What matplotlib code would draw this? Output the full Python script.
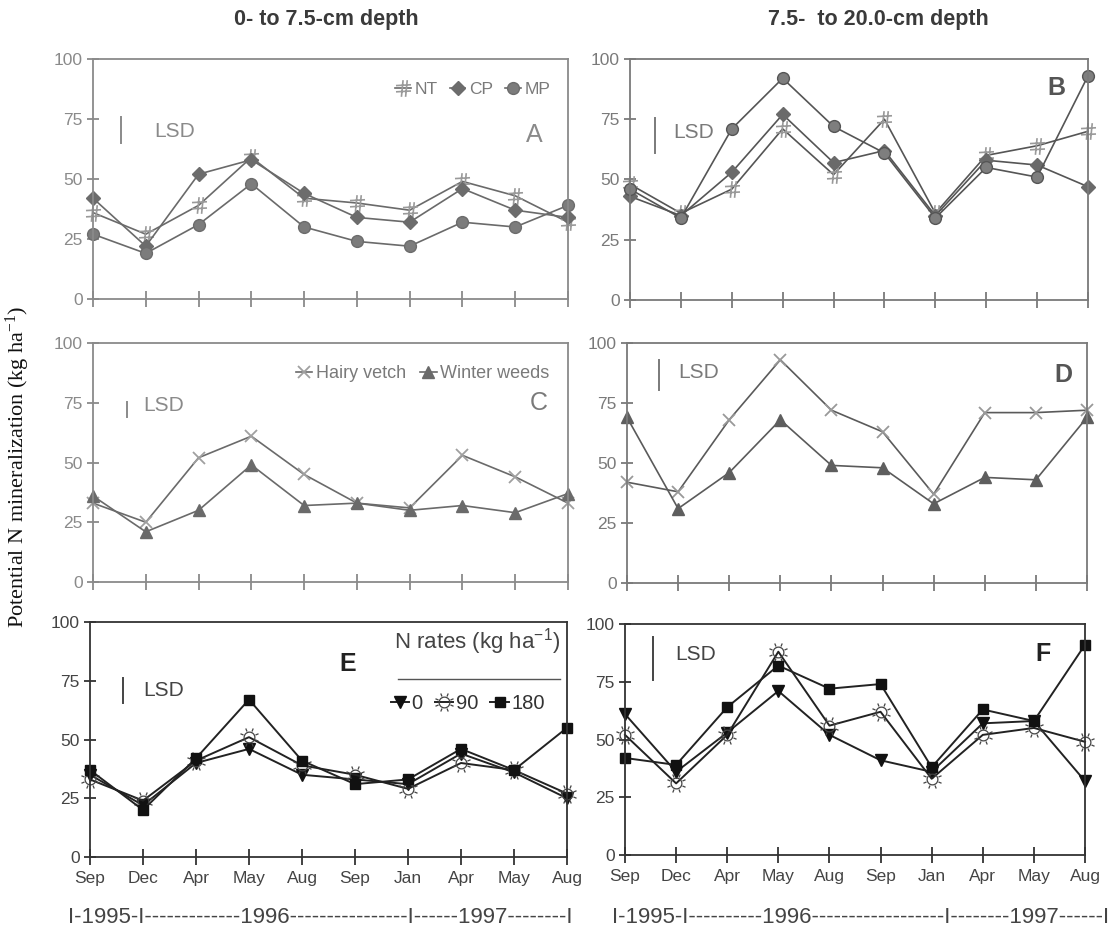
import numpy as np
import matplotlib
matplotlib.use('Agg')
import matplotlib.pyplot as plt
from matplotlib.path import Path

plt.rcParams['font.family'] = ['Liberation Sans', 'DejaVu Sans']

# ---------------- data ----------------
months = ['Sep', 'Dec', 'Apr', 'May', 'Aug', 'Sep', 'Jan', 'Apr', 'May', 'Aug']
yticks = [0, 25, 50, 75, 100]

# Panel A: 0-7.5 cm, tillage
a_nt = [36, 27, 39, 59, 42, 40, 37, 49, 43, 32]
a_cp = [42, 22, 52, 58, 44, 34, 32, 46, 37, 34]
a_mp = [27, 19, 31, 48, 30, 24, 22, 32, 30, 39]
# Panel B: 7.5-20 cm, tillage
b_nt = [48, 36, 46, 71, 52, 75, 36, 60, 64, 70]
b_cp = [43, 35, 53, 77, 57, 62, 35, 58, 56, 47]
b_mp = [46, 34, 71, 92, 72, 61, 34, 55, 51, 93]
# Panel C: 0-7.5 cm, cover crop
c_hv = [33, 25, 52, 61, 45, 33, 31, 53, 44, 33]
c_ww = [36, 21, 30, 49, 32, 33, 30, 32, 29, 37]
# Panel D: 7.5-20 cm, cover crop
d_hv = [42, 38, 68, 93, 72, 63, 37, 71, 71, 72]
d_ww = [69, 31, 46, 68, 49, 48, 33, 44, 43, 69]
# Panel E: 0-7.5 cm, N rates
e_n0 = [35, 22, 40, 46, 35, 33, 31, 44, 36, 25]
e_n90 = [33, 24, 41, 51, 39, 35, 29, 40, 37, 27]
e_n180 = [37, 20, 42, 67, 41, 31, 33, 46, 37, 55]
# Panel F: 7.5-20 cm, N rates
f_n0 = [61, 36, 53, 71, 52, 41, 36, 57, 58, 32]
f_n90 = [52, 31, 52, 88, 56, 62, 33, 52, 55, 49]
f_n180 = [42, 39, 64, 82, 72, 74, 38, 63, 58, 91]

# LSD bar lengths (kg/ha)
lsd_vals = {'A': 10.8, 'B': 14.5, 'C': 6.3, 'D': 12.5, 'E': 10.5, 'F': 18.7}

years_left = 'I-1995-I-------------1996----------------I------1997--------I'
years_right = 'I-1995-I----------1996------------------I--------1997------I'

x = np.arange(len(months))

# ---------------- figure ----------------
W, H = 1119, 930
fig = plt.figure(figsize=(W / 100, H / 100), dpi=100)


def box(l, t, r, b):
    return [l / W, 1 - b / H, (r - l) / W, (b - t) / H]


# sun-like marker for 90 kg N
_circ = Path.circle((0, 0), 0.55)
_rv, _rc = [], []
for ang in np.deg2rad(np.arange(0, 360, 45) + 22.5):
    _rv += [(0.66 * np.cos(ang), 0.66 * np.sin(ang)), (1.0 * np.cos(ang), 1.0 * np.sin(ang))]
    _rc += [Path.MOVETO, Path.LINETO]
sun = Path.make_compound_path(_circ, Path(_rv, _rc))

# hash-like marker for NT
hashm = Path([(-0.25, -1.0), (-0.05, 1.0), (0.25, -1.0), (0.45, 1.0),
              (-0.9, 0.35), (0.9, 0.45), (-0.9, -0.4), (0.9, -0.3)],
             [Path.MOVETO, Path.LINETO] * 4)


def setup(ax, spine_col, lab_col, bottom_labels):
    ax.set_xlim(0, 9)
    ax.set_ylim(0, 100)
    ax.set_xticks(x)
    ax.set_yticks(yticks)
    ax.set_yticklabels([str(v) for v in yticks])
    if bottom_labels:
        ax.set_xticklabels(months)
    else:
        ax.set_xticklabels([''] * len(months))
    for s in ax.spines.values():
        s.set_color(spine_col)
        s.set_linewidth(1.3)
    ax.tick_params(axis='x', direction='inout', length=12, width=1.3,
                   colors=spine_col, labelcolor=lab_col, labelsize=12.5, pad=4)
    ax.tick_params(axis='y', direction='inout', length=9, width=1.3,
                   colors=spine_col, labelcolor=lab_col, labelsize=12.5, pad=3)
    ax.set_facecolor('white')


def lsd(ax, key, xf, y0, tx, ty, col, size=15):
    ax.plot([xf, xf], [y0, y0 + lsd_vals[key]], color=col, lw=1.4,
            transform=ax.get_yaxis_transform(), clip_on=False)
    ax.text(tx, ty, 'LSD', transform=ax.transAxes, ha='left', va='center',
            fontsize=size, color=col)


# ---------- Panel A ----------
axA = fig.add_axes(box(93, 59, 568, 299))
setup(axA, '#8a8a8a', '#8a8a8a', False)
lc = '#6a6a6a'
axA.plot(x, a_nt, color=lc, lw=1.2, marker=hashm, ms=12, mfc='none', mec='#9a9a9a',
         mew=1.2, label='NT', clip_on=False)
axA.plot(x, a_cp, color=lc, lw=1.2, marker='D', ms=7, mfc='#6c6c6c', mec='#6c6c6c',
         label='CP', clip_on=False)
axA.plot(x, a_mp, color=lc, lw=1.2, marker='o', ms=8.5, mfc='#7c7c7c', mec='#6c6c6c',
         label='MP', clip_on=False)
axA.legend(loc='upper right', bbox_to_anchor=(0.995, 0.97), ncol=3, frameon=False,
           fontsize=12.5, handlelength=0.9, handletextpad=0.2, columnspacing=0.7,
           labelcolor='#7a7a7a')
lsd(axA, 'A', 0.059, 65, 0.13, 0.696, '#8a8a8a')
axA.text(0.93, 0.683, 'A', transform=axA.transAxes, ha='center', va='center',
         fontsize=18, color='#8a8a8a')

# ---------- Panel B ----------
axB = fig.add_axes(box(630, 59, 1088, 300))
setup(axB, '#7a7a7a', '#7a7a7a', False)
lc = '#555555'
axB.plot(x, b_nt, color=lc, lw=1.2, marker=hashm, ms=12, mfc='none', mec='#999999',
         mew=1.2, clip_on=False)
axB.plot(x, b_cp, color=lc, lw=1.2, marker='D', ms=7, mfc='#6a6a6a', mec='#6a6a6a',
         clip_on=False)
axB.plot(x, b_mp, color=lc, lw=1.2, marker='o', ms=8.5, mfc='#7e7e7e', mec='#555555',
         clip_on=False)
lsd(axB, 'B', 0.055, 61, 0.094, 0.697, '#7a7a7a')
axB.text(0.932, 0.88, 'B', transform=axB.transAxes, ha='center', va='center',
         fontsize=18, fontweight='bold', color='#555555')

# ---------- Panel C ----------
axC = fig.add_axes(box(93, 343, 568, 582))
setup(axC, '#8a8a8a', '#8a8a8a', False)
lc = '#6a6a6a'
axC.plot(x, c_hv, color=lc, lw=1.2, marker='x', ms=9, mew=1.3, mec='#a0a0a0',
         label='Hairy vetch', clip_on=False)
axC.plot(x, c_ww, color=lc, lw=1.2, marker='^', ms=8, mfc='#6a6a6a', mec='#6a6a6a',
         label='Winter weeds', clip_on=False)
axC.legend(loc='upper right', bbox_to_anchor=(0.995, 0.975), ncol=2, frameon=False,
           fontsize=13, handlelength=0.9, handletextpad=0.2, columnspacing=0.8,
           labelcolor='#7a7a7a')
lsd(axC, 'C', 0.072, 69, 0.105, 0.74, '#8a8a8a')
axC.text(0.939, 0.75, 'C', transform=axC.transAxes, ha='center', va='center',
         fontsize=18, color='#7a7a7a')

# ---------- Panel D ----------
axD = fig.add_axes(box(627, 343, 1087, 583))
setup(axD, '#7a7a7a', '#7a7a7a', False)
lc = '#5a5a5a'
axD.plot(x, d_hv, color=lc, lw=1.2, marker='x', ms=9, mew=1.3, mec='#999999',
         clip_on=False)
axD.plot(x, d_ww, color=lc, lw=1.2, marker='^', ms=8, mfc='#5e5e5e', mec='#5e5e5e',
         clip_on=False)
lsd(axD, 'D', 0.07, 80.4, 0.111, 0.875, '#7a7a7a')
axD.text(0.948, 0.867, 'D', transform=axD.transAxes, ha='center', va='center',
         fontsize=18, fontweight='bold', color='#555555')

# ---------- Panel E ----------
axE = fig.add_axes(box(90, 622, 567, 857))
setup(axE, '#333333', '#444444', True)
lc = '#222222'
axE.plot(x, e_n0, color=lc, lw=1.4, marker='v', ms=8, mfc='#111111', mec='#111111',
         label='0', clip_on=False)
axE.plot(x, e_n90, color=lc, lw=1.4, marker=sun, ms=13, mfc='none', mec='#444444',
         mew=0.9, label='90', clip_on=False)
axE.plot(x, e_n180, color=lc, lw=1.4, marker='s', ms=7.5, mfc='#111111', mec='#111111',
         label='180', clip_on=False)
axE.text(0.985, 0.915, 'N rates (kg ha$\\mathregular{^{-1}}$)', transform=axE.transAxes,
         ha='right', va='center', fontsize=16, color='#444444')
axE.plot([0.645, 0.985], [0.757, 0.757], transform=axE.transAxes, color='#555555', lw=1.0)
axE.legend(loc='center left', bbox_to_anchor=(0.63, 0.655), ncol=3, frameon=False,
           fontsize=14.5, handlelength=0.9, handletextpad=0.15, columnspacing=0.6,
           labelcolor='#333333', borderaxespad=0, borderpad=0)
lsd(axE, 'E', 0.069, 65.5, 0.111, 0.71, '#444444')
axE.text(0.541, 0.82, 'E', transform=axE.transAxes, ha='center', va='center',
         fontsize=18, fontweight='bold', color='#222222')

# ---------- Panel F ----------
axF = fig.add_axes(box(625, 624, 1085, 855))
setup(axF, '#333333', '#444444', True)
axF.plot(x, f_n0, color=lc, lw=1.4, marker='v', ms=8, mfc='#111111', mec='#111111',
         clip_on=False)
axF.plot(x, f_n90, color=lc, lw=1.4, marker=sun, ms=13, mfc='none', mec='#444444',
         mew=0.9, clip_on=False)
axF.plot(x, f_n180, color=lc, lw=1.4, marker='s', ms=7.5, mfc='#111111', mec='#111111',
         clip_on=False)
lsd(axF, 'F', 0.061, 75.7, 0.11, 0.87, '#444444')
axF.text(0.909, 0.87, 'F', transform=axF.transAxes, ha='center', va='center',
         fontsize=18, fontweight='bold', color='#222222')

# ---------- figure texts ----------
fig.text(326 / W, 1 - 20 / H, '0- to 7.5-cm depth', ha='center', va='center',
         fontsize=15.5, fontweight='bold', color='#3a3a3a')
fig.text(878 / W, 1 - 20 / H, '7.5-  to 20.0-cm depth', ha='center', va='center',
         fontsize=15.5, fontweight='bold', color='#3a3a3a')
fig.text(18 / W, 1 - 467 / H, 'Potential N mineralization (kg ha$\\mathregular{^{-1}}$)',
         rotation=90, ha='center', va='center', fontsize=16,
         family=['Liberation Serif', 'DejaVu Serif'], color='#111111')
fig.text(68 / W, 1 - 917 / H, years_left, ha='left', va='center', fontsize=16,
         color='#444444')
fig.text(612 / W, 1 - 917 / H, years_right, ha='left', va='center', fontsize=16,
         color='#444444')

fig.savefig('out.png', dpi=100, facecolor='white')
